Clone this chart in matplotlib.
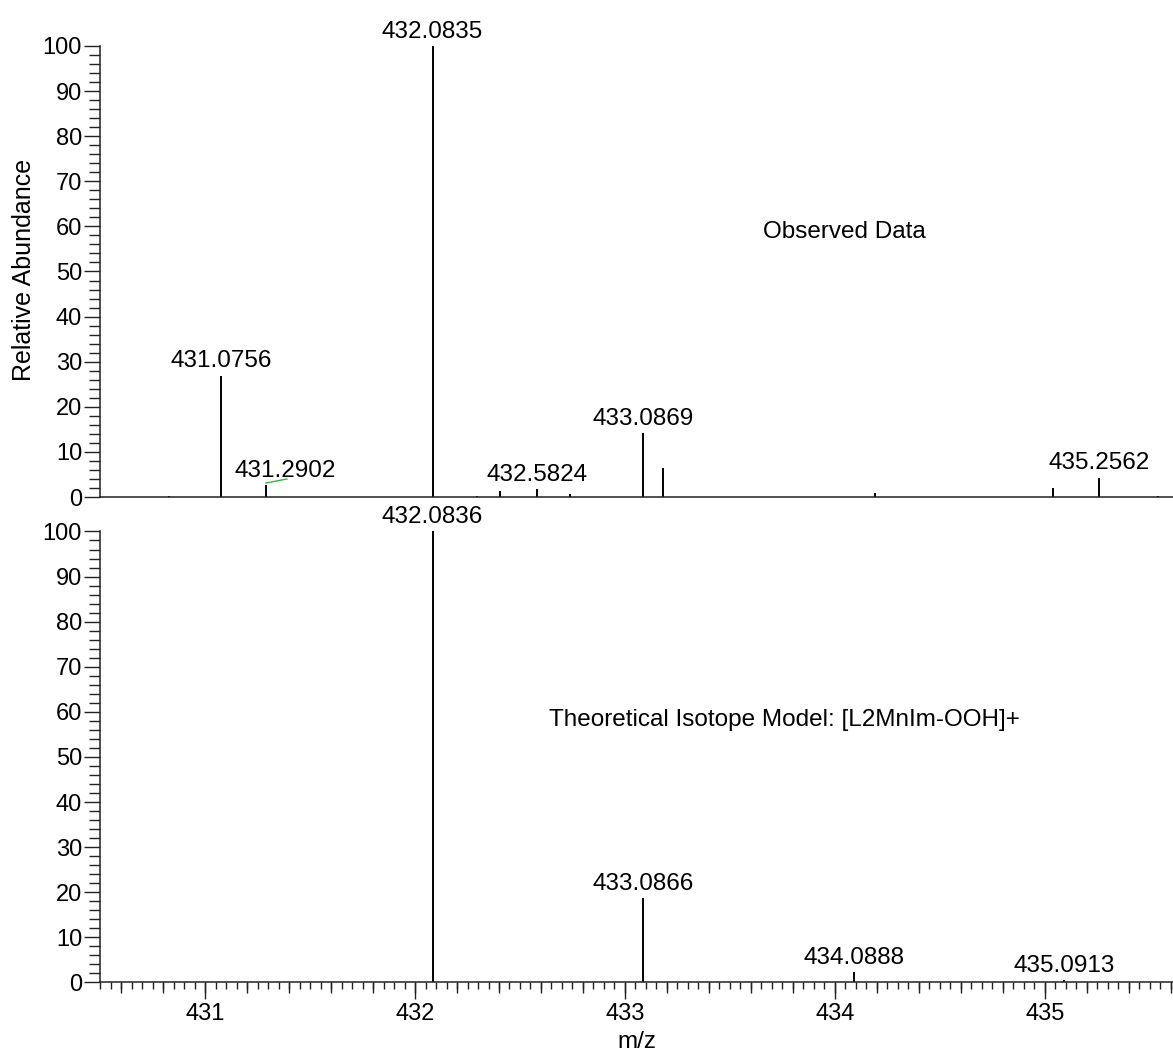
import numpy as np
import matplotlib
matplotlib.use("Agg")
import matplotlib.pyplot as plt
from matplotlib.ticker import MultipleLocator, NullFormatter

# observed spectrum (top panel)
obs_mz = [430.83, 431.0756, 431.2902, 432.0835, 432.295, 432.405, 432.5824, 432.738,
          433.0869, 433.18, 434.19, 435.04, 435.2562, 435.538]
obs_int = [0.3, 26.9, 2.7, 100.0, 0.3, 1.3, 1.8, 0.7,
           14.2, 6.4, 0.8, 2.1, 4.3, 0.3]
obs_labels = ["431.0756", "432.0835", "432.5824", "433.0869", "435.2562"]
obs_label_mz = [431.0756, 432.0835, 432.5824, 433.0869, 435.2562]
obs_label_int = [26.9, 100.0, 1.8, 14.2, 4.3]

# theoretical isotope model (bottom panel)
theo_mz = [432.0836, 433.0866, 434.0888, 435.0913]
theo_int = [100.0, 18.7, 2.3, 0.5]
theo_labels = ["432.0836", "433.0866", "434.0888", "435.0913"]

x_min, x_max = 430.5, 435.61

plt.rcParams['font.family'] = ['Liberation Sans', 'DejaVu Sans']

def setupAxis(ax, show_x):
    for s in ["top", "right"]:
        ax.spines[s].set_visible(False)
    for s in ["left", "bottom"]:
        ax.spines[s].set_linewidth(1.1)
        ax.spines[s].set_color("#222222")
    ax.set_xlim(x_min, x_max)
    ax.set_ylim(0, 100)
    ax.yaxis.set_major_locator(MultipleLocator(10))
    ax.yaxis.set_minor_locator(MultipleLocator(2))
    ax.tick_params(axis="y", which="major", direction="out", length=11.5, width=1.0,
                   pad=1.5, labelsize=17, color="#222222")
    ax.tick_params(axis="y", which="minor", direction="out", length=8, width=1.0, color="#222222")
    if show_x:
        ax.xaxis.set_major_locator(MultipleLocator(1))
        ax.xaxis.set_minor_locator(MultipleLocator(0.05))
        ax.tick_params(axis="x", which="major", direction="out", length=12, width=1.0,
                       pad=3, labelsize=17, color="#222222")
        ax.tick_params(axis="x", which="minor", direction="out", length=5, width=1.0, color="#222222")
        # medium ticks every 0.2
        sec = ax.secondary_xaxis("bottom")
        sec.spines["bottom"].set_visible(False)
        sec.xaxis.set_major_locator(MultipleLocator(0.2))
        sec.xaxis.set_major_formatter(NullFormatter())
        sec.tick_params(axis="x", which="major", direction="out", length=8, width=1.0, color="#222222")
    else:
        ax.tick_params(axis="x", which="both", bottom=False, labelbottom=False)

def labelPeaks(ax, mzs, ints, labels):
    for mz, h, lab in zip(mzs, ints, labels):
        ax.annotate(lab, (mz, h), xytext=(0, 6), textcoords="offset points",
                    ha="center", va="baseline", fontsize=17.5, annotation_clip=False)

fig = plt.figure(figsize=(11.73, 10.57), dpi=100)
ax1 = fig.add_axes([0.0853, 0.5298, 0.9147, 0.4267])
ax2 = fig.add_axes([0.0853, 0.0705, 0.9147, 0.4267])

setupAxis(ax1, False)
setupAxis(ax2, True)

ax1.vlines(obs_mz, 0, obs_int, color="black", linewidth=1.4)
ax2.vlines(theo_mz, 0, theo_int, color="black", linewidth=1.4)

labelPeaks(ax1, obs_label_mz, obs_label_int, obs_labels)
# 431.2902 label sits off to the right with a small green leader
ax1.plot([431.2902, 431.39], [3.1, 4.0], color="#3cb043", linewidth=1.0)
ax1.text(431.381, 4.4, "431.2902", ha="center", va="baseline", fontsize=17.5)

labelPeaks(ax2, theo_mz, theo_int, theo_labels)

ax1.text(433.657, 58.8, "Observed Data", ha="left", va="center", fontsize=17.5)
ax2.text(432.638, 58.2, "Theoretical Isotope Model: [L2MnIm-OOH]+", ha="left", va="center", fontsize=17.5)

fig.text(24 / 1173, 1 - 270 / 1057, "Relative Abundance", rotation=90, ha="center", va="center", fontsize=18)
ax2.set_xlabel("m/z", fontsize=17.5, labelpad=4)

fig.savefig("out.png", dpi=100)
